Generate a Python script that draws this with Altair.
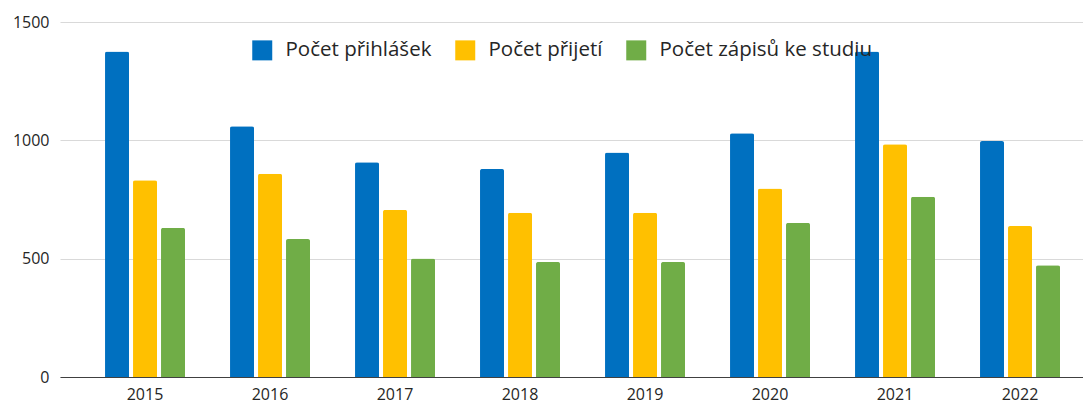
import altair as alt
import pandas as pd

roky = ["2015", "2016", "2017", "2018", "2019", "2020", "2021", "2022"]
prihlasky = [1375, 1059, 907, 879, 949, 1030, 1375, 997]
prijeti = [831, 859, 706, 694, 694, 796, 983, 638]
zapisy = [630, 583, 501, 486, 486, 651, 762, 472]
serie = ["Počet přihlášek", "Počet přijetí", "Počet zápisů ke studiu"]
barvy = ["#0070C0", "#FFC000", "#70AD47"]
y_ticks = [0, 500, 1000, 1500]

rows = []
for i, r in enumerate(roky):
    for s, vals in zip(serie, [prihlasky, prijeti, zapisy]):
        rows.append({"rok": r, "serie": s, "hodnota": vals[i]})
df = pd.DataFrame(rows)

FONT = "Open Sans"
TXT = "#262626"

chart = alt.Chart(df).mark_bar(
    cornerRadiusTopLeft=2, cornerRadiusTopRight=2
).encode(
    x=alt.X(
        "rok:N", sort=roky,
        scale=alt.Scale(paddingInner=0.36, paddingOuter=0.272, align=0.662),
        axis=alt.Axis(title=None, labelAngle=0, ticks=False, domainColor="#404040",
                      domainWidth=1.2, labelPadding=9, labelFontSize=16,
                      labelColor=TXT, labelFont=FONT, grid=False),
    ),
    xOffset=alt.XOffset("serie:N", sort=serie,
                        scale=alt.Scale(paddingInner=0.143, paddingOuter=0)),
    y=alt.Y(
        "hodnota:Q",
        scale=alt.Scale(domain=[0, 1500], nice=False),
        axis=alt.Axis(values=y_ticks, title=None, domain=False, ticks=False,
                      gridColor="#d9d9d9", gridWidth=1, labelPadding=11,
                      labelFontSize=16, labelColor=TXT, labelFont=FONT,
                      format="d"),
    ),
    color=alt.Color(
        "serie:N", sort=serie,
        scale=alt.Scale(domain=serie, range=barvy),
        legend=alt.Legend(orient="none", legendX=192, legendY=18,
                          direction="horizontal", title=None,
                          symbolType="square", symbolSize=400,
                          symbolStrokeWidth=0,
                          labelFontSize=20.5, labelFont=FONT, labelColor=TXT,
                          labelOffset=13, columnPadding=23, labelLimit=400,
                          padding=0),
    ),
).properties(
    width=1023, height=355,
    autosize=alt.AutoSizeParams(type="none"),
    padding={"left": 52, "top": 14, "right": 0, "bottom": 26},
).configure_view(stroke=None)

chart.save("out.html", embed_options={"renderer": "svg", "actions": False})
